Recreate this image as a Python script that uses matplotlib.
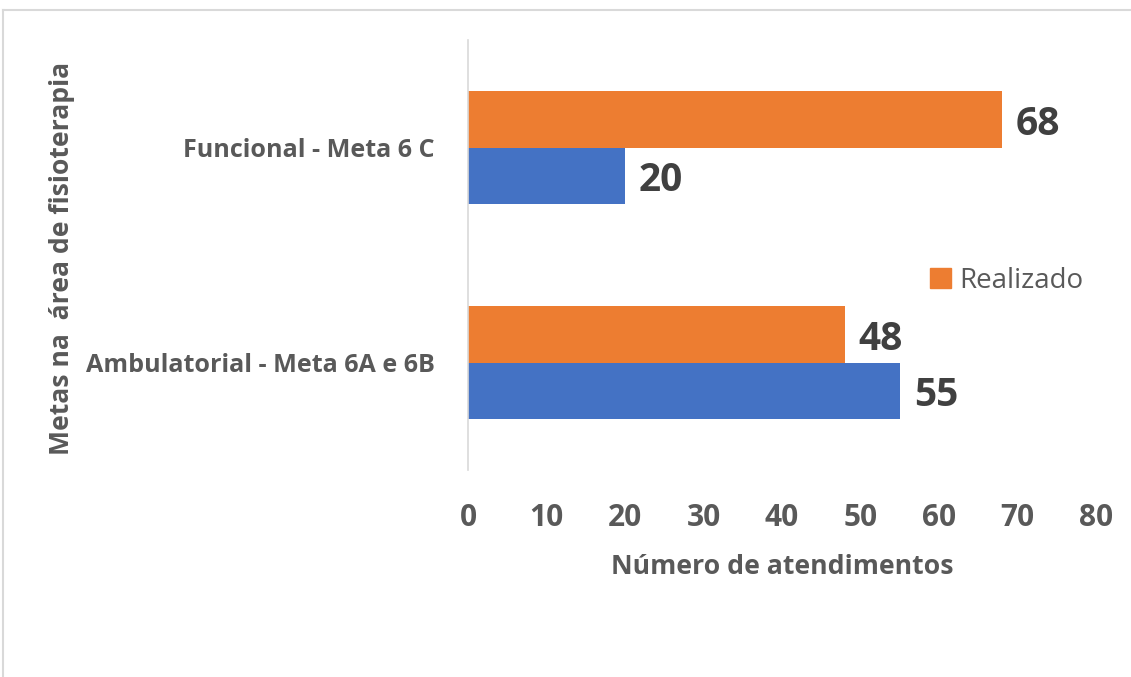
import matplotlib
matplotlib.use("Agg")
import matplotlib.pyplot as plt
from matplotlib.lines import Line2D
from matplotlib.patches import Patch
import numpy as np

categories = ["Ambulatorial - Meta 6A e 6B", "Funcional - Meta 6 C"]
realizado = [48, 68]
meta = [55, 20]
xticks = [0, 10, 20, 30, 40, 50, 60, 70, 80]

plt.rcParams['font.family'] = ['Open Sans', 'DejaVu Sans']
gray = "#595959"
dark = "#404040"
orange = "#ED7D31"
blue = "#4472C4"

fig = plt.figure(figsize=(11.31, 6.77), dpi=100)
W, H = 1131, 677
ax = fig.add_axes([468 / W, 1 - 470 / H, (1096 - 468) / W, (470 - 40) / H])

y = np.arange(len(categories))
h = 0.265
b1 = ax.barh(y + h / 2, realizado, height=h, color=orange)
b2 = ax.barh(y - h / 2, meta, height=h, color=blue)

for bars, vals in ((b1, realizado), (b2, meta)):
    for bar, v in zip(bars, vals):
        ax.annotate(str(v), (bar.get_width(), bar.get_y() + bar.get_height() / 2),
                    xytext=(14, -5), textcoords="offset pixels",
                    ha="left", va="center", fontsize=28, fontweight="bold", color=dark)

ax.set_xlim(0, 80)
ax.set_ylim(-0.5, 1.5)
ax.set_xticks(xticks)
ax.set_xticklabels([str(t) for t in xticks])
ax.set_yticks(y)
ax.set_yticklabels(categories)
ax.tick_params(axis="x", length=0, pad=24, labelsize=21.5, labelcolor=gray)
ax.tick_params(axis="y", length=0, pad=24, labelsize=18.1, labelcolor=gray)
for lab in ax.get_xticklabels() + ax.get_yticklabels():
    lab.set_fontweight("bold")
for s in ("top", "right", "bottom"):
    ax.spines[s].set_visible(False)
ax.spines["left"].set_color("#D9D9D9")
ax.spines["left"].set_linewidth(1.2)

ax.set_xlabel("Número de atendimentos", fontsize=19.2, fontweight="bold", color=gray, labelpad=15)
fig.text(62 / W, 1 - 258 / H, "Metas na  área de fisioterapia", rotation=90, ha="center",
         va="center", fontsize=19.1, fontweight="bold", color=gray)

fig.legend(handles=[Patch(color=orange, label="Realizado")], loc="center left",
           bbox_to_anchor=(905 / W, 1 - 281 / H), frameon=False, fontsize=20,
           labelcolor=gray, handlelength=0.75, handleheight=0.75, handletextpad=0.3)

fig.add_artist(Line2D([3 / W, 1], [1 - 10 / H, 1 - 10 / H], color="#D9D9D9", lw=1.5,
                      transform=fig.transFigure))
fig.add_artist(Line2D([3 / W, 3 / W], [0, 1 - 10 / H], color="#D9D9D9", lw=1.5,
                      transform=fig.transFigure))

fig.savefig("out.png", dpi=100)
